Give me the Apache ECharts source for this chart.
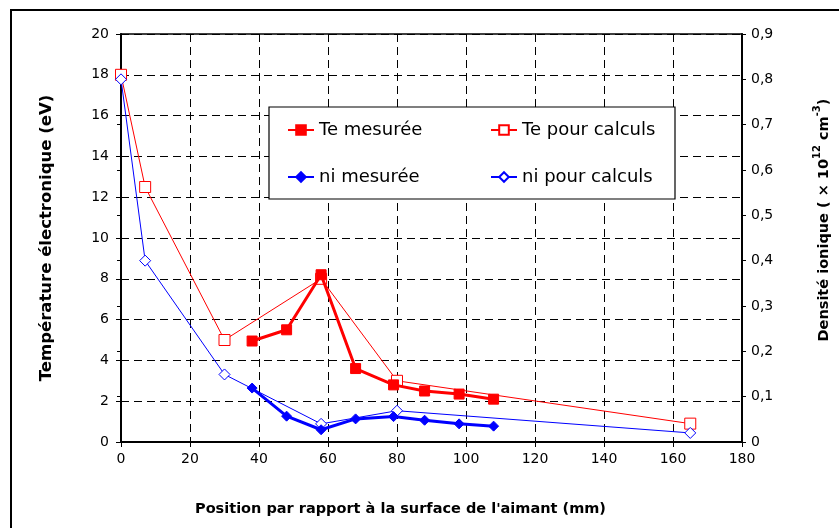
<!DOCTYPE html>
<html>
<head>
<meta charset="utf-8">
<script src="https://cdn.jsdelivr.net/npm/echarts@6/dist/echarts.min.js"></script>
<style>
  html, body { margin: 0; padding: 0; background: #fff; overflow: hidden; }
  #chart { width: 839px; height: 528px; }
</style>
</head>
<body>
<div id="chart"></div>
<script>
// Electron temperature (left axis, eV) and ion density (right axis, 1e12 cm^-3)
const teMesureeX = [38, 48, 58, 68, 79, 88, 98, 108];
const teMesureeY = [4.95, 5.5, 8.2, 3.6, 2.8, 2.5, 2.35, 2.1];

const teCalculsX = [0, 7, 30, 58, 80, 165];
const teCalculsY = [18, 12.5, 5.0, 8.0, 3.0, 0.9];

const niMesureeX = [38, 48, 58, 68, 79, 88, 98, 108];
const niMesureeY = [0.119, 0.057, 0.027, 0.051, 0.056, 0.048, 0.040, 0.035];

const niCalculsX = [0, 7, 30, 58, 80, 165];
const niCalculsY = [0.80, 0.40, 0.149, 0.040, 0.069, 0.020];

const seriesNames = ['Te mesurée', 'Te pour calculs', 'ni mesurée', 'ni pour calculs'];

const xTitle = "Position par rapport à la surface de l'aimant (mm)";
const yLeftTitle = 'Température électronique (eV)';
const yRightTitle = '{b|Densité ionique ( × 10}{s|12}{b| cm}{s|-3}{b|)}';

const pairs = (xs, ys) => xs.map((x, i) => [x, ys[i]]);

const FONT = '"DejaVu Sans", Verdana, sans-serif';
const RED = '#ff0000';
const BLUE = '#0000ff';

const chart = echarts.init(document.getElementById('chart'), null, { renderer: 'canvas' });

const legendCommon = {
  itemWidth: 26,
  itemHeight: 12,
  textStyle: { fontFamily: FONT, fontSize: 18, color: '#000' },
  z: 6,
  padding: 0
};

const titleStyle = { fontFamily: FONT, fontSize: 15, fontWeight: 'bold', color: '#000' };

chart.setOption({
  animation: false,
  backgroundColor: '#fff',
  textStyle: { fontFamily: FONT },
  grid: {
    left: 121, right: 97, top: 34, bottom: 86,
    outerBoundsMode: 'none',
    containLabel: false,
    show: true, borderColor: '#000', borderWidth: 1.5
  },
  graphic: [
    {
      type: 'rect', z: 0,
      shape: { x: 11, y: 10, width: 1000, height: 700 },
      style: { fill: 'none', stroke: '#000', lineWidth: 2 }
    },
    {
      type: 'rect', z: 5,
      shape: { x: 269, y: 107, width: 406, height: 92 },
      style: { fill: '#fff', stroke: '#000', lineWidth: 1.2 }
    }
  ],
  legend: [
    Object.assign({ data: [seriesNames[0]], left: 287, top: 121 }, legendCommon),
    Object.assign({ data: [seriesNames[1]], left: 490, top: 121 }, legendCommon),
    Object.assign({ data: [seriesNames[2]], left: 287, top: 168 }, legendCommon),
    Object.assign({ data: [seriesNames[3]], left: 490, top: 168 }, legendCommon)
  ],
  xAxis: {
    type: 'value', min: 0, max: 180, interval: 20,
    name: xTitle, nameLocation: 'middle', nameGap: 60,
    nameTextStyle: Object.assign({}, titleStyle, { fontSize: 14.5, padding: [0, 62, 0, 0] }),
    axisLine: { show: true, onZero: false, lineStyle: { color: '#000', width: 2 } },
    axisTick: { show: true, inside: false, length: 5, lineStyle: { color: '#000', width: 1 } },
    axisLabel: { fontFamily: FONT, fontSize: 14, color: '#000', margin: 10 },
    splitLine: { show: true, lineStyle: { color: '#000', width: 1, type: [8, 5] } }
  },
  yAxis: [
    {
      type: 'value', min: 0, max: 20, interval: 2, position: 'left',
      name: yLeftTitle, nameLocation: 'middle', nameGap: 66, nameRotate: 90,
      nameTextStyle: Object.assign({}, titleStyle, { fontSize: 16.5 }),
      axisLine: { show: true, onZero: false, lineStyle: { color: '#000', width: 2 } },
      axisTick: { show: true, inside: false, length: 5, lineStyle: { color: '#000', width: 1 } },
      axisLabel: { fontFamily: FONT, fontSize: 14, color: '#000', margin: 12 },
      splitLine: { show: true, lineStyle: { color: '#000', width: 1, type: [8, 5] } }
    },
    {
      type: 'value', min: 0, max: 0.9, interval: 0.1, position: 'right',
      name: yRightTitle, nameLocation: 'middle', nameGap: 70, nameRotate: 90,
      nameTextStyle: {
        padding: [0, 0, 0, 36],
        rich: {
          b: { fontFamily: FONT, fontSize: 14.5, fontWeight: 'bold', color: '#000', lineHeight: 20, verticalAlign: 'bottom' },
          s: { fontFamily: FONT, fontSize: 10, fontWeight: 'bold', color: '#000', lineHeight: 20, verticalAlign: 'top' }
        }
      },
      axisLine: { show: true, onZero: false, lineStyle: { color: '#000', width: 2 } },
      axisTick: { show: true, inside: false, length: 4, lineStyle: { color: '#000', width: 1 } },
      axisLabel: {
        fontFamily: FONT, fontSize: 14, color: '#000', margin: 9,
        formatter: v => (Math.round(v * 10) / 10).toString().replace('.', ',')
      },
      splitLine: { show: false }
    },
    {
      // inner half of the crossing ticks on the density axis
      type: 'value', min: 0, max: 0.9, interval: 0.1, position: 'right',
      axisLine: { show: false },
      axisTick: { show: true, inside: true, length: 4, lineStyle: { color: '#000', width: 1 } },
      axisLabel: { show: false },
      splitLine: { show: false }
    }
  ],
  series: [
    {
      name: seriesNames[1], type: 'line', yAxisIndex: 0, z: 2,
      data: pairs(teCalculsX, teCalculsY),
      symbol: 'rect', symbolSize: 11,
      lineStyle: { color: RED, width: 1 },
      itemStyle: { color: '#fff', borderColor: RED, borderWidth: 1 }
    },
    {
      name: seriesNames[3], type: 'line', yAxisIndex: 1, z: 2,
      data: pairs(niCalculsX, niCalculsY),
      symbol: 'diamond', symbolSize: 11,
      lineStyle: { color: BLUE, width: 1 },
      itemStyle: { color: '#fff', borderColor: BLUE, borderWidth: 1 }
    },
    {
      name: seriesNames[0], type: 'line', yAxisIndex: 0, z: 3,
      data: pairs(teMesureeX, teMesureeY),
      symbol: 'rect', symbolSize: 10,
      lineStyle: { color: RED, width: 3 },
      itemStyle: { color: RED, borderColor: RED, borderWidth: 1 }
    },
    {
      name: seriesNames[2], type: 'line', yAxisIndex: 1, z: 3,
      data: pairs(niMesureeX, niMesureeY),
      symbol: 'diamond', symbolSize: 10,
      lineStyle: { color: BLUE, width: 3 },
      itemStyle: { color: BLUE, borderColor: BLUE, borderWidth: 1 }
    }
  ]
});
</script>
</body>
</html>
